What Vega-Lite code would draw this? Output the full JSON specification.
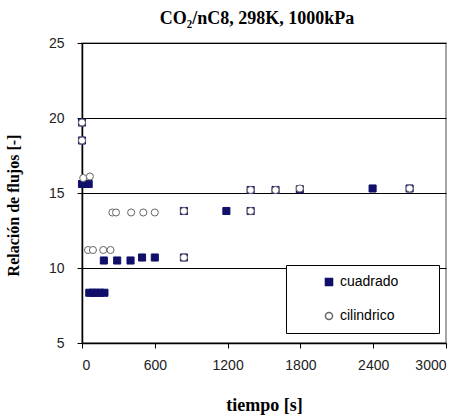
{
  "$schema": "https://vega.github.io/schema/vega-lite/v6.json",
  "width": 364,
  "height": 300,
  "autosize": {"type": "none"},
  "padding": {"left": 82, "top": 43, "right": 25, "bottom": 74},
  "background": "white",
  "config": {
    "view": {"stroke": "#888888", "strokeWidth": 1.5},
    "font": "Liberation Sans"
  },
  "title": {
    "text": "CO₂/nC8, 298K, 1000kPa",
    "font": "Liberation Serif",
    "fontSize": 18,
    "fontWeight": "bold",
    "color": "black",
    "offset": 8,
    "dx": -7
  },
  "data": {
    "values": [
      {"t": 0, "r": 19.7, "serie": "cuadrado"},
      {"t": 0, "r": 18.5, "serie": "cuadrado"},
      {"t": 0, "r": 15.6, "serie": "cuadrado"},
      {"t": 55, "r": 15.6, "serie": "cuadrado"},
      {"t": 60, "r": 8.35, "serie": "cuadrado"},
      {"t": 90, "r": 8.35, "serie": "cuadrado"},
      {"t": 120, "r": 8.35, "serie": "cuadrado"},
      {"t": 150, "r": 8.35, "serie": "cuadrado"},
      {"t": 185, "r": 8.35, "serie": "cuadrado"},
      {"t": 180, "r": 10.5, "serie": "cuadrado"},
      {"t": 290, "r": 10.5, "serie": "cuadrado"},
      {"t": 400, "r": 10.5, "serie": "cuadrado"},
      {"t": 495, "r": 10.7, "serie": "cuadrado"},
      {"t": 600, "r": 10.7, "serie": "cuadrado"},
      {"t": 840, "r": 10.7, "serie": "cuadrado"},
      {"t": 840, "r": 13.8, "serie": "cuadrado"},
      {"t": 1190, "r": 13.8, "serie": "cuadrado"},
      {"t": 1390, "r": 13.8, "serie": "cuadrado"},
      {"t": 1390, "r": 15.2, "serie": "cuadrado"},
      {"t": 1595, "r": 15.2, "serie": "cuadrado"},
      {"t": 1795, "r": 15.25, "serie": "cuadrado"},
      {"t": 2395, "r": 15.3, "serie": "cuadrado"},
      {"t": 2700, "r": 15.3, "serie": "cuadrado"},
      {"t": 0, "r": 19.7, "serie": "cilindrico"},
      {"t": 0, "r": 18.5, "serie": "cilindrico"},
      {"t": 10, "r": 16.0, "serie": "cilindrico"},
      {"t": 65, "r": 16.1, "serie": "cilindrico"},
      {"t": 50, "r": 11.2, "serie": "cilindrico"},
      {"t": 90, "r": 11.2, "serie": "cilindrico"},
      {"t": 175, "r": 11.2, "serie": "cilindrico"},
      {"t": 235, "r": 11.2, "serie": "cilindrico"},
      {"t": 250, "r": 13.7, "serie": "cilindrico"},
      {"t": 280, "r": 13.7, "serie": "cilindrico"},
      {"t": 405, "r": 13.7, "serie": "cilindrico"},
      {"t": 505, "r": 13.7, "serie": "cilindrico"},
      {"t": 600, "r": 13.7, "serie": "cilindrico"},
      {"t": 840, "r": 13.8, "serie": "cilindrico"},
      {"t": 840, "r": 10.7, "serie": "cilindrico"},
      {"t": 1390, "r": 13.8, "serie": "cilindrico"},
      {"t": 1390, "r": 15.2, "serie": "cilindrico"},
      {"t": 1595, "r": 15.2, "serie": "cilindrico"},
      {"t": 1795, "r": 15.3, "serie": "cilindrico"},
      {"t": 2700, "r": 15.3, "serie": "cilindrico"}
    ]
  },
  "mark": {"type": "point", "filled": false, "size": 50, "strokeWidth": 1, "opacity": 1},
  "encoding": {
    "x": {
      "field": "t", "type": "quantitative",
      "scale": {"domain": [0, 3000], "nice": false},
      "axis": {
        "values": [0, 600, 1200, 1800, 2400, 3000],
        "format": "d",
        "grid": false,
        "domainColor": "black", "domainWidth": 1.5,
        "tickColor": "black", "tickSize": 5,
        "labelFont": "Liberation Sans", "labelFontSize": 14, "labelColor": "#222",
        "labelPadding": 10,
        "title": "tiempo [s]",
        "titleFont": "Liberation Serif", "titleFontSize": 18, "titleFontWeight": "bold",
        "titleColor": "black", "titlePadding": 24
      }
    },
    "y": {
      "field": "r", "type": "quantitative",
      "scale": {"domain": [5, 25], "nice": false, "zero": false},
      "axis": {
        "values": [5, 10, 15, 20, 25],
        "grid": true, "gridColor": "black", "gridOpacity": 1, "gridWidth": 1.2,
        "domainColor": "black", "domainWidth": 1.5,
        "tickColor": "black", "tickSize": 5,
        "labelFont": "Liberation Sans", "labelFontSize": 14, "labelColor": "#222",
        "labelPadding": 13,
        "title": "Relación de flujos [-]",
        "titleFont": "Liberation Serif", "titleFontSize": 16, "titleFontWeight": "bold",
        "titleColor": "black", "titlePadding": 27,
        "titleY": 162
      }
    },
    "shape": {
      "field": "serie", "type": "nominal",
      "scale": {"domain": ["cuadrado", "cilindrico"], "range": ["square", "circle"]},
      "legend": {
        "title": null,
        "orient": "none", "legendX": 204, "legendY": 222,
        "fillColor": "white", "strokeColor": "black",
        "padding": 10, "symbolOffset": 26,
        "labelFont": "Liberation Sans", "labelFontSize": 14, "labelColor": "black",
        "rowPadding": 20, "symbolSize": 50,
        "labelExpr": "datum.label + '\u2800\u2800\u2800'"
      }
    },
    "fill": {
      "field": "serie", "type": "nominal",
      "scale": {"domain": ["cuadrado", "cilindrico"], "range": ["#10106b", "white"]},
      "legend": null
    },
    "stroke": {
      "field": "serie", "type": "nominal",
      "scale": {"domain": ["cuadrado", "cilindrico"], "range": ["#10106b", "#666666"]},
      "legend": null
    }
  }
}
